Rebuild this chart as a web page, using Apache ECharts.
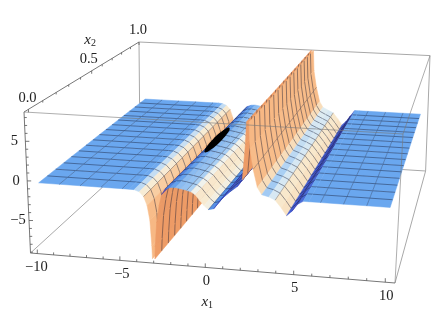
<!DOCTYPE html>
<html><head><meta charset="utf-8">
<style>html,body{margin:0;padding:0;background:#fff}#c{width:436px;height:327px}</style>
<script src="https://cdn.jsdelivr.net/npm/echarts@6/dist/echarts.min.js"></script>
</head><body><div id="c"></div>
<script>
const x1Values=[-10,-8.75,-7.5,-6.25,-5,-4.6,-4.3,-4,-3.75,-3.55,-3.4,-3.3,-3.2,-3.1,-3,-2.85,-2.7,-2.5,-2.2,-1.9,-1.6,-1.25,-1,-.75,-.5,-.25,0,.3,.6,.9,1.25,1.6,1.9,2.05,2.15,2.3,2.5,2.75,3,3.4,3.75,4.1,4.4,4.7,5,5.3,5.6,6.25,7.5,8.75,10];
const x2Values=[0,.125,.25,.375,.5,.625,.75,.875,1];
const z0=[-.6,-.6,-.6,-.6,-.6,-.6,-.62,-.85,-1.4,-2.5,-4.3,-7.5,-13,-7.5,-4.5,-2.4,-1,-.3,-.05,0,-.1,-.25,-.4,-.75,-1.4,-2,-2.45,-2.3,-1.4,-.7,0,.6,1.5,6,13,5.5,2.9,.7,-.15,-.35,-.7,-1.6,-2.5,-1.9,-1,-.6,-.6,-.6,-.6,-.6,-.6];
const z1=[-.55,-.55,-.55,-.55,-.55,-.55,-.58,-.82,-1.38,-2.5,-4.3,-7.5,-13,-7.5,-4.55,-2.45,-1.05,-.35,-.1,-.05,-.15,-.3,-.45,-.8,-1.45,-2.05,-2.5,-2.35,-1.45,-.75,-.05,.55,1.45,6,13,5.5,2.9,.7,-.15,-.38,-.73,-1.63,-2.53,-1.93,-1.03,-.55,-.55,-.55,-.55,-.55,-.55];
const z2=[-.5,-.5,-.5,-.5,-.5,-.5,-.54,-.8,-1.36,-2.5,-4.3,-7.5,-13,-7.5,-4.6,-2.5,-1.1,-.4,-.15,-.1,-.2,-.35,-.5,-.85,-1.5,-2.1,-2.55,-2.4,-1.5,-.8,-.1,.5,1.4,6,13,5.5,2.9,.7,-.15,-.41,-.76,-1.66,-2.56,-1.96,-1.06,-.5,-.5,-.5,-.5,-.5,-.5];
const z3=[-.48,-.48,-.48,-.48,-.48,-.48,-.52,-.78,-1.34,-2.5,-4.3,-7.5,-13,-7.5,-4.65,-2.55,-1.15,-.45,-.2,-.15,-.25,-.4,-.55,-.9,-1.55,-2.15,-2.6,-2.45,-1.55,-.85,-.15,.45,1.35,6,13,5.5,2.9,.7,-.15,-.44,-.79,-1.69,-2.59,-1.99,-1.09,-.48,-.48,-.48,-.48,-.48,-.48];
const z4=[-.45,-.45,-.45,-.45,-.45,-.45,-.5,-.76,-1.32,-2.5,-4.3,-7.5,-13,-7.5,-4.7,-2.6,-1.2,-.5,-.25,-.2,-.3,-.45,-.6,-.95,-1.6,-2.2,-2.65,-2.5,-1.6,-.9,-.2,.4,1.3,6,13,5.5,2.9,.7,-.15,-.47,-.82,-1.72,-2.62,-2.02,-1.12,-.45,-.45,-.45,-.45,-.45,-.45];
const z5=[-.42,-.42,-.42,-.42,-.42,-.42,-.48,-.74,-1.3,-2.5,-4.3,-7.5,-13,-7.5,-4.75,-2.65,-1.25,-.55,-.3,-.25,-.35,-.5,-.65,-1,-1.65,-2.25,-2.7,-2.55,-1.65,-.95,-.25,.35,1.25,6,13,5.5,2.9,.7,-.15,-.5,-.85,-1.75,-2.65,-2.05,-1.15,-.42,-.42,-.42,-.42,-.42,-.42];
const z6=[-.4,-.4,-.4,-.4,-.4,-.4,-.46,-.72,-1.3,-2.5,-4.3,-7.5,-13,-7.5,-4.8,-2.7,-1.3,-.6,-.35,-.3,-.4,-.55,-.7,-1.05,-1.7,-2.3,-2.75,-2.6,-1.7,-1,-.3,.3,1.2,6,13,5.5,2.9,.7,-.15,-.53,-.88,-1.78,-2.68,-2.08,-1.18,-.4,-.4,-.4,-.4,-.4,-.4];
const z7=[-.4,-.4,-.4,-.4,-.4,-.4,-.45,-.7,-1.3,-2.5,-4.3,-7.5,-13,-7.5,-4.85,-2.75,-1.35,-.65,-.4,-.35,-.45,-.6,-.75,-1.1,-1.75,-2.35,-2.8,-2.65,-1.75,-1.05,-.35,.25,1.15,6,13,5.5,2.9,.7,-.15,-.56,-.91,-1.81,-2.71,-2.11,-1.21,-.4,-.4,-.4,-.4,-.4,-.4];
const z8=[-.4,-.4,-.4,-.4,-.4,-.4,-.45,-.7,-1.3,-2.5,-4.3,-7.5,-13,-7.5,-4.9,-2.8,-1.4,-.7,-.45,-.4,-.5,-.65,-.8,-1.15,-1.8,-2.4,-2.85,-2.7,-1.8,-1.1,-.4,.2,1.1,6,13,5.5,2.9,.7,-.15,-.59,-.94,-1.84,-2.74,-2.14,-1.24,-.4,-.4,-.4,-.4,-.4,-.4];
const zRows=[z0,z1,z2,z3,z4,z5,z6,z7,z8];
const meshX1=[-8.75,-7.5,-6.25,-5,-3.75,-2.5,-1.25,0,1.25,2.5,3.75,5,6.25,7.5,8.75];
const blobX1=[-1.85,-1.89,-2,-2.15,-2.3,-2.41,-2.45,-2.41,-2.3,-2.15,-2,-1.89];
const blobX2=[.5,.575,.63,.65,.63,.575,.5,.425,.37,.35,.37,.425];
const blobZ=-.1;
const x1Major=[-10,-5,0,5,10], x1Minor=[-9,-8,-7,-6,-4,-3,-2,-1,1,2,3,4,6,7,8,9];
const x2Major=[0,.5,1], x2Minor=[.1,.2,.3,.4,.6,.7,.8,.9];
const zMajor=[-5,0,5], zMinor=[-9,-8,-7,-6,-4,-3,-2,-1,1,2,3,4,6,7,8];
const fmt=v=>String(v).replace('-','\u2212');

// box and view
const xLo=-10.42,xHi=10.52,zLo=-9.1,zHi=8.7,persp=1.35,x2Lo=-.03,aFront=.93,aBack=.98;
const C={fb:[30.5,253],ft:[24,112],rb:[395,283],rt:[403,134],bfb:[140,153],bft:[139,42],brb:[425.6,171],brt:[430,55.6]};
const lerp=(a,b,t)=>[a[0]+(b[0]-a[0])*t,a[1]+(b[1]-a[1])*t];
function P(x,y,z){
  const y1=(y-x2Lo)/(1-x2Lo);
  const t=persp*y1/(1+(persp-1)*y1),u0=(x-xLo)/(xHi-xLo),v=(z-zLo)/(zHi-zLo);
  const a=aFront+(aBack-aFront)*t,u=a*u0/(1+(a-1)*u0);
  const bot=lerp(lerp(C.fb,C.rb,u),lerp(C.bfb,C.brb,u),t);
  const top=lerp(lerp(C.ft,C.rt,u),lerp(C.bft,C.brt,u),t);
  return lerp(bot,top,v);
}
// slope to colour stops
const stops=[[-30,'#f7b884'],[-8,'#f8bd8a'],[-3.5,'#f8dcb8'],[-2.4,'#f8ead0'],[-1.2,'#eef4f2'],[-.6,'#a9cff4'],[-.1,'#6ea9ef'],[.1,'#66a4ee'],[.5,'#5590e6'],[1.5,'#4a6ad8'],[2.5,'#3e4ec4'],[3.2,'#3a3ab0'],[4.5,'#8a6a90'],[6.5,'#ea9a66'],[40,'#ee9c66']];
const hex=c=>[1,3,5].map(i=>parseInt(c.substr(i,2),16));
function col(s){
  if(s<=stops[0][0])return stops[0][1];
  for(let i=1;i<stops.length;i++){if(s<=stops[i][0]){
    const a=hex(stops[i-1][1]),b=hex(stops[i][1]),t=(s-stops[i-1][0])/(stops[i][0]-stops[i-1][0]);
    return 'rgb('+a.map((v,k)=>Math.round(v+(b[k]-v)*t)).join(',')+')';}}
  return stops[stops.length-1][1];
}
function clipPoly(pts){
  function cut(list,inside,lim){const o=[];for(let i=0;i<list.length;i++){const a=list[i],b=list[(i+1)%list.length];
    const ia=inside(a[2]),ib=inside(b[2]);if(ia)o.push(a);
    if(ia!==ib){const t=(lim-a[2])/(b[2]-a[2]);o.push([a[0]+(b[0]-a[0])*t,a[1]+(b[1]-a[1])*t,lim]);}}return o;}
  let r=cut(pts,z=>z<=zHi,zHi);if(r.length)r=cut(r,z=>z>=zLo,zLo);return r;
}
function clipSeg(a,b){
  let t0=0,t1=1;const d=b[2]-a[2];
  for(const [lim,sgn] of [[zHi,1],[zLo,-1]]){
    if(d===0){if(sgn*(a[2]-lim)>0)return null;continue;}
    const t=(lim-a[2])/d;
    if(sgn*d>0)t1=Math.min(t1,t);else t0=Math.max(t0,t);
  }
  if(t0>=t1)return null;
  const at=t=>[a[0]+(b[0]-a[0])*t,a[1]+(b[1]-a[1])*t,a[2]+(b[2]-a[2])*t];
  return [at(t0),at(t1)];
}
const meshA={stroke:'rgba(18,24,48,.62)',lineWidth:.7,fill:null};
const meshB={stroke:'rgba(18,24,48,.5)',lineWidth:.6,fill:null};
function renderCell(params,api){
  const j=api.value(0),r=api.value(1);
  const xa=x1Values[j],xb=x1Values[j+1],ya=x2Values[r],yb=x2Values[r+1];
  const za=zRows[r][j],zb=zRows[r][j+1],zc=zRows[r+1][j+1],zd=zRows[r+1][j];
  const poly=clipPoly([[xa,ya,za],[xb,ya,zb],[xb,yb,zc],[xa,yb,zd]]);
  const kids=[];const toS=p=>api.coord(P(p[0],p[1],p[2]));
  if(poly.length>2){
    const s=((zb-za)+(zc-zd))/2/(xb-xa);const f=col(s);
    kids.push({type:'polygon',shape:{points:poly.map(toS)},style:{fill:f,stroke:f,lineWidth:.5}});
  }
  const seg=(a,b,st)=>{const c=clipSeg(a,b);if(c){const p=toS(c[0]),q=toS(c[1]);kids.push({type:'line',shape:{x1:p[0],y1:p[1],x2:q[0],y2:q[1]},style:st});}};
  const ym=(ya+yb)/2;
  seg([xa,ym,(za+zd)/2],[xb,ym,(zb+zc)/2],meshA);
  if(r<x2Values.length-2)seg([xa,yb,zd],[xb,yb,zc],meshA);
  if(meshX1.includes(xa))seg([xa,ya,za],[xa,yb,zd],meshB);
  return {type:'group',children:kids};
}
const cells=[];
for(let r=x2Values.length-2;r>=0;r--)for(let j=0;j<x1Values.length-1;j++)cells.push([j,r]);

const backEdges=[['fb','bfb'],['bfb','bft'],['bfb','brb'],['brb','rb'],['brb','brt'],['bft','brt']];
const frontEdges=[['ft','rt'],['rt','rb'],['rt','brt']];
const axisEdges=[['fb','ft'],['fb','rb'],['ft','bft']];
const edgeItem=(list,stroke,w)=>(p,api)=>{const e=list[api.value(0)];const a=api.coord(C[e[0]]),b=api.coord(C[e[1]]);
  return {type:'line',shape:{x1:a[0],y1:a[1],x2:b[0],y2:b[1]},style:{stroke,lineWidth:w,fill:null}};};
const idx=l=>l.map((_,i)=>[i]);
const tickDefs=[];
x1Major.forEach(v=>tickDefs.push([v,x2Lo,zLo,0,-4]));x1Minor.forEach(v=>tickDefs.push([v,x2Lo,zLo,0,-2.5]));
zMajor.forEach(v=>tickDefs.push([xLo,x2Lo,v,4,0]));zMinor.forEach(v=>tickDefs.push([xLo,x2Lo,v,2.5,0]));
x2Major.forEach(v=>tickDefs.push([xLo,v,zHi,0,3]));x2Minor.forEach(v=>tickDefs.push([xLo,v,zHi,0,2]));
const labelDefs=[];
x1Major.forEach(v=>labelDefs.push([v,x2Lo,zLo,v===-10?-1:(v===-5?2:1),14,fmt(v)]));
zMajor.forEach(v=>labelDefs.push([xLo,x2Lo,v,-11,0,fmt(v)]));
x2Major.forEach(v=>labelDefs.push([xLo,v,zHi,v===.5?-3:-1,-11.5,v.toFixed(1)]));
const font='"Liberation Serif","Times New Roman",serif';
const chart=echarts.init(document.getElementById('c'),null,{renderer:'canvas'});
const base={type:'custom',coordinateSystem:'cartesian2d',silent:true,animation:false,progressive:0,clip:false};
chart.setOption({animation:false,
 grid:{left:0,right:0,top:0,bottom:0},
 xAxis:{type:'value',min:0,max:436,show:false},
 yAxis:{type:'value',min:0,max:327,inverse:true,show:false},
 series:[
  {...base,name:'boxBack',data:idx(backEdges),renderItem:edgeItem(backEdges,'#a8a8a8',1),encode:{x:0}},
  {...base,name:'surface',data:cells,renderItem:renderCell,encode:{x:0,y:1}},
  {...base,name:'blob',data:[[0]],encode:{x:0},renderItem:(p,api)=>({type:'polygon',shape:{points:blobX1.map((x,i)=>api.coord(P(x,blobX2[i],blobZ))),smooth:.4},style:{fill:'#000'}})},
  {...base,name:'boxFront',data:idx(frontEdges),renderItem:edgeItem(frontEdges,'rgba(120,120,120,.6)',1),encode:{x:0}},
  {...base,name:'axes',data:idx(axisEdges),renderItem:edgeItem(axisEdges,'#777',1),encode:{x:0}},
  {...base,name:'ticks',data:idx(tickDefs),encode:{x:0},renderItem:(p,api)=>{const d=tickDefs[api.value(0)];const a=api.coord(P(d[0],d[1],d[2]));
    return {type:'line',shape:{x1:a[0],y1:a[1],x2:a[0]+d[3],y2:a[1]+d[4]},style:{stroke:'#555',lineWidth:.8,fill:null}};}},
  {...base,name:'labels',data:idx(labelDefs),encode:{x:0},renderItem:(p,api)=>{const d=labelDefs[api.value(0)];const a=api.coord(P(d[0],d[1],d[2]));
    return {type:'text',x:a[0]+d[3],y:a[1]+d[4],style:{text:d[5],font:'14.5px '+font,fill:'#222',textAlign:'center',textVerticalAlign:'middle'}};}},
  {...base,name:'titles',data:[[0,-.1],[1,.72]],encode:{x:0},renderItem:(p,api)=>{const k=api.value(0);const a=k===0?api.coord(P(0,x2Lo,zLo)):api.coord(P(xLo,api.value(1),zHi));
    const n=k===0?'1':'2';const dx=k===0?2:-24,dy=k===0?35:-17;
    return {type:'text',x:a[0]+dx,y:a[1]+dy,style:{text:'{i|x}{s|'+n+'}',textAlign:'center',textVerticalAlign:'middle',rich:{i:{font:'italic 15px '+font,fill:'#222'},s:{font:'10px '+font,fill:'#222',padding:[6,0,0,0]}}}};}}
 ]});
</script></body></html>
